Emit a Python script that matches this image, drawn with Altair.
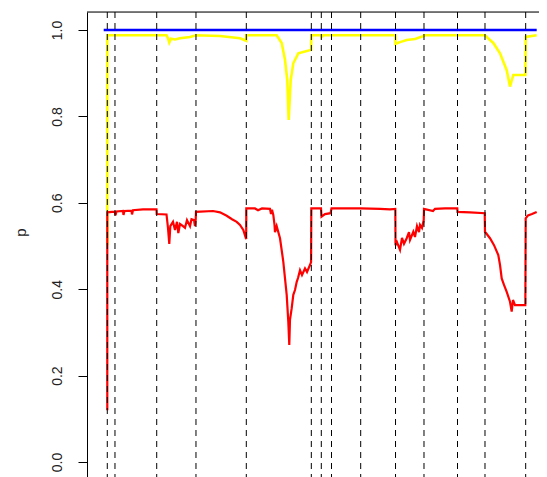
import altair as alt
import pandas as pd

# marker position (0-100 scale) and probability values
red_x = [0.53, 0.53, 1.62, 2.31, 2.43, 2.66, 4.17, 4.28, 4.51, 6.13, 6.25, 6.48, 8.80, 11.92, 11.97,
         14.24, 14.58, 14.88, 15.12, 15.74, 16.20, 16.67, 16.97, 17.36, 18.06, 18.52, 18.98, 19.68,
         20.02, 20.60, 20.83, 21.0, 21.06, 25.0, 26.62, 28.17, 29.40, 30.49, 31.25, 32.01, 32.68,
         32.71, 34.72, 35.42, 36.34, 38.19, 38.43, 38.66, 38.96, 39.24, 39.35, 39.74, 40.51, 41.27,
         42.06, 42.43, 42.66, 42.82, 43.22, 43.59, 43.98, 44.38, 44.68, 45.14, 45.60, 46.30, 46.76,
         47.45, 47.70, 47.76, 50.0, 50.12, 50.93, 52.2, 52.43, 59.19, 63.66, 65.97, 67.2, 67.25,
         67.59, 68.29, 68.75, 69.21, 69.84, 70.37, 70.60, 71.37, 71.76, 72.22, 72.69, 72.92, 73.38,
         73.78, 73.84, 75.93, 76.39, 78.70, 81.55, 81.60, 84.49, 87.9, 87.96, 89.12, 90.05, 91.04,
         91.44, 91.83, 92.36, 92.99, 93.75, 94.14, 94.44, 94.91, 96.06, 97.3, 97.38, 97.92, 98.84,
         99.93]
red_p = [0.12, 0.578, 0.579, 0.579, 0.571, 0.580, 0.581, 0.572, 0.581, 0.582, 0.573, 0.583, 0.585,
         0.585, 0.574, 0.573, 0.542, 0.505, 0.546, 0.556, 0.537, 0.556, 0.530, 0.551, 0.546, 0.542,
         0.560, 0.546, 0.562, 0.560, 0.546, 0.562, 0.579, 0.581, 0.578, 0.570, 0.562, 0.556, 0.549,
         0.537, 0.516, 0.587, 0.587, 0.583, 0.587, 0.586, 0.574, 0.584, 0.572, 0.549, 0.532, 0.546,
         0.518, 0.464, 0.387, 0.325, 0.271, 0.329, 0.356, 0.387, 0.398, 0.417, 0.426, 0.444, 0.433,
         0.448, 0.440, 0.456, 0.463, 0.587, 0.587, 0.568, 0.574, 0.576, 0.587, 0.587, 0.586, 0.585,
         0.586, 0.502, 0.509, 0.491, 0.519, 0.505, 0.518, 0.532, 0.514, 0.533, 0.521, 0.546, 0.532,
         0.549, 0.542, 0.560, 0.586, 0.581, 0.586, 0.587, 0.587, 0.579, 0.578, 0.576, 0.533, 0.518,
         0.502, 0.479, 0.456, 0.425, 0.410, 0.394, 0.371, 0.348, 0.375, 0.363, 0.363, 0.363, 0.564,
         0.571, 0.574, 0.579]

yellow_x = [0.53, 0.53, 14.24, 14.58, 14.88, 15.28, 16.20, 17.36, 19.68, 21.06, 26.62, 31.25, 32.68,
            32.71, 39.74, 40.90, 41.67, 42.20, 42.52, 42.99, 43.59, 44.75, 46.30, 47.70, 47.76, 50.0,
            50.12, 50.5, 67.2, 67.25, 68.29, 69.84, 71.76, 73.78, 73.84, 87.96, 88.66, 89.89, 91.44,
            92.99, 93.75, 94.51, 96.06, 97.3, 97.38, 99.93]
yellow_p = [0.502, 0.988, 0.988, 0.981, 0.971, 0.980, 0.978, 0.981, 0.984, 0.988, 0.986, 0.981, 0.975,
            0.988, 0.988, 0.970, 0.931, 0.884, 0.792, 0.884, 0.923, 0.946, 0.950, 0.954, 0.988, 0.988,
            0.984, 0.988, 0.988, 0.968, 0.972, 0.977, 0.979, 0.986, 0.988, 0.988, 0.981, 0.970, 0.946,
            0.907, 0.869, 0.896, 0.896, 0.896, 0.984, 0.988]

blue_x = [-0.3, 99.93]
blue_p = [1.0, 1.0]

boundaries = [0.53, 2.31, 11.97, 21.06, 32.71, 47.76, 50.07, 52.43, 59.19, 67.25, 73.84, 81.60,
              87.96, 97.38]
y_ticks = [0.0, 0.2, 0.4, 0.6, 0.8, 1.0]

W, H = 452, 465
xs = alt.Scale(domain=[-4.1667, 100.463], nice=False, zero=False)
ys = alt.Scale(domain=[-0.0347, 1.0417], nice=False, zero=False)

def series(xv, pv, color, sw):
    df = pd.DataFrame({"x": xv, "p": pv, "i": range(len(xv))})
    return alt.Chart(df).mark_line(color=color, strokeWidth=sw, clip=True).encode(
        x=alt.X("x:Q", scale=xs, axis=None),
        y=alt.Y("p:Q", scale=ys),
        order="i:Q",
    )

yaxis = alt.Axis(
    values=y_ticks, format=".1f", labelAngle=-90, labelAlign="center", labelBaseline="bottom",
    labelFont="Liberation Sans", labelFontSize=14, labelColor="#222", labelPadding=14,
    tickSize=9, tickColor="#000", domainColor="#000", domainWidth=1, grid=False,
    title="p", titleFont="Liberation Sans", titleFontSize=15, titleFontWeight="normal",
    titleColor="#222", titleAngle=-90, titleX=-62, titleY=220, titleAlign="center",
    titleBaseline="alphabetic",
)

blue = series(blue_x, blue_p, "#0000FF", 2.3).encode(y=alt.Y("p:Q", scale=ys, axis=yaxis))
yellow = series(yellow_x, yellow_p, "#FFFF00", 2.6)
red = series(red_x, red_p, "#FF0000", 2.2)

vl = alt.Chart(pd.DataFrame({"b": boundaries})).mark_rule(
    color="#000", strokeWidth=1, strokeDash=[6, 5]
).encode(x=alt.X("b:Q", scale=xs, axis=None))

top = alt.Chart(pd.DataFrame({"a": [0]})).mark_rule(color="#000", strokeWidth=1).encode(
    x=alt.value(0), x2=alt.value(W), y=alt.value(0)
)

chart = alt.layer(blue, yellow, red, vl, top).properties(
    width=W, height=H,
    autosize=alt.AutoSizeParams(type="none"),
    padding={"left": 79, "top": 4, "right": 0, "bottom": 0},
).configure_view(strokeWidth=0).configure(background="white")

chart.save("out.html", embed_options={"renderer": "svg", "actions": False})
